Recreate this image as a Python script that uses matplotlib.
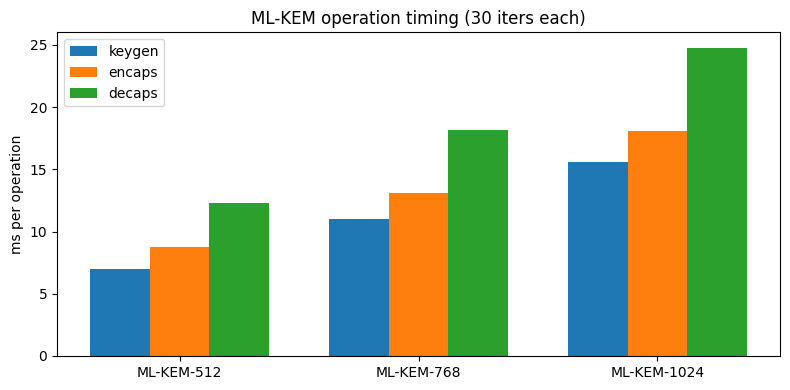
import numpy as np
import matplotlib
matplotlib.use('Agg')
import matplotlib.pyplot as plt

params = ["ML-KEM-512", "ML-KEM-768", "ML-KEM-1024"]
keygen = [7.0, 11.0, 15.6]
encaps = [8.76, 13.1, 18.1]
decaps = [12.3, 18.17, 24.76]

x = np.arange(len(params))
w = 0.25

fig, ax = plt.subplots(figsize=(7.9, 3.9), dpi=100)
ax.bar(x - w, keygen, w, label="keygen")
ax.bar(x, encaps, w, label="encaps")
ax.bar(x + w, decaps, w, label="decaps")
ax.set_xticks(x)
ax.set_xticklabels(params)
ax.set_ylabel("ms per operation")
ax.set_title("ML-KEM operation timing (30 iters each)")
ax.legend(loc="upper left")
fig.subplots_adjust(left=0.0722, right=0.9873, top=0.917, bottom=0.0872)
fig.savefig("out.png")
